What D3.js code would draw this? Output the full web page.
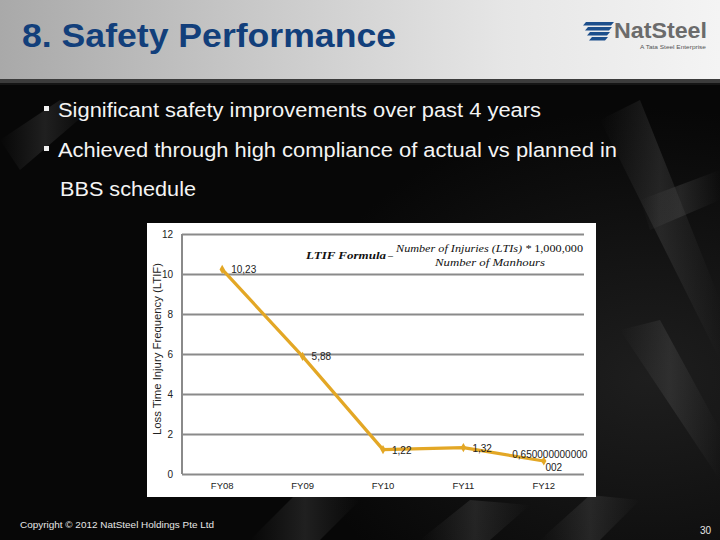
<!DOCTYPE html>
<html><head><meta charset="utf-8">
<script src="https://cdn.jsdelivr.net/npm/d3@7"></script>
<style>html,body{margin:0;padding:0;background:#000;}svg{display:block;}</style>
</head><body>
<svg id="c" width="720" height="540"></svg>
<script>
const categories = ["FY08", "FY09", "FY10", "FY11", "FY12"];
const ltif = [10.23, 5.88, 1.22, 1.32, 0.65];
const valueLabels = ["10,23", "5,88", "1,22", "1,32", "0,650000000000002"];
const yTicks = [0, 2, 4, 6, 8, 10, 12];
const bullets = ["Significant safety improvements over past 4 years",
                 "Achieved through high compliance of actual vs planned in",
                 "BBS schedule"];

const svg = d3.select("#c");
const defs = svg.append("defs");
const hg = defs.append("linearGradient").attr("id","hdr").attr("x1",0).attr("x2",1).attr("y1",0).attr("y2",0);
hg.append("stop").attr("offset","0%").attr("stop-color","#a9a9a9");
hg.append("stop").attr("offset","35%").attr("stop-color","#c8c8c8");
hg.append("stop").attr("offset","70%").attr("stop-color","#e6e6e6");
hg.append("stop").attr("offset","100%").attr("stop-color","#f4f4f4");
const bg = defs.append("radialGradient").attr("id","bgd").attr("cx","0.9").attr("cy","0.7").attr("r","0.5");
bg.append("stop").attr("offset","0%").attr("stop-color","#1e1e1e");
bg.append("stop").attr("offset","100%").attr("stop-color","#070707");
const bar = defs.append("linearGradient").attr("id","bar").attr("x1",0).attr("x2",1);
bar.append("stop").attr("offset","0%").attr("stop-color","#555").attr("stop-opacity",0);
bar.append("stop").attr("offset","50%").attr("stop-color","#5a5a5a").attr("stop-opacity",0.3);
bar.append("stop").attr("offset","100%").attr("stop-color","#555").attr("stop-opacity",0);

// background
svg.append("rect").attr("width",720).attr("height",540).attr("fill","url(#bgd)");
const bars = [
  [[600,120],[640,100],[720,300],[720,360]],
  [[620,330],[660,320],[720,430],[720,480]],
  [[250,540],[300,490],[360,500],[320,540]],
  [[420,540],[470,500],[530,505],[490,540]],
  [[540,540],[590,495],[640,500],[600,540]],
  [[0,140],[60,100],[90,110],[20,170]],
  [[640,200],[720,170],[720,200],[650,230]]
];
svg.append("g").selectAll("polygon").data(bars).join("polygon")
  .attr("points", d => d.map(p => p.join(",")).join(" "))
  .attr("fill","url(#bar)");
svg.append("rect").attr("width",720).attr("height",80).attr("fill","url(#hdr)");
svg.append("rect").attr("y",79).attr("width",720).attr("height",4).attr("fill","#3c3c3c");
svg.append("rect").attr("y",83).attr("width",720).attr("height",2).attr("fill","#151515");

// title
svg.append("text").attr("x",22).attr("y",47).attr("textLength",374).attr("lengthAdjust","spacingAndGlyphs")
  .attr("font-family","Liberation Sans, Arial, sans-serif").attr("font-weight","bold").attr("font-size",33)
  .attr("fill","#123f7b").text("8. Safety Performance");

// logo
const lg = svg.append("g");
[[0,22],[1,27],[2,32],[3,37]].forEach(([i,y0])=>{
  const xr = 613 - i*2, w = 30 - i*4;
  lg.append("polygon").attr("points",
    `${xr-w},${y0+3.5} ${xr-w+3},${y0} ${xr+1},${y0} ${xr-2},${y0+3.5}`).attr("fill","#1d4f8c");
});
lg.append("text").attr("x",614).attr("y",38).attr("textLength",93).attr("lengthAdjust","spacingAndGlyphs")
  .attr("font-family","Liberation Sans, Arial, sans-serif").attr("font-weight","bold").attr("font-size",22)
  .attr("fill","#6b6b6b").text("NatSteel");
lg.append("text").attr("x",706).attr("y",49).attr("text-anchor","end").attr("textLength",66).attr("lengthAdjust","spacingAndGlyphs")
  .attr("font-family","Liberation Sans, Arial, sans-serif").attr("font-size",6)
  .attr("fill","#555").text("A Tata Steel Enterprise");

// bullets
const bl = [{x:58,y:117,w:483,b:true},{x:58,y:157,w:559,b:true},{x:60,y:196,w:136,b:false}];
bl.forEach((o,i)=>{
  if(o.b) svg.append("rect").attr("x",44).attr("y",o.y-11).attr("width",5).attr("height",5).attr("fill","#f0f0f0");
  svg.append("text").attr("x",o.x).attr("y",o.y).attr("textLength",o.w).attr("lengthAdjust","spacingAndGlyphs")
    .attr("font-family","Liberation Sans, Arial, sans-serif").attr("font-size",20)
    .attr("fill","#f4f4f4").text(bullets[i]);
});

// chart panel
svg.append("rect").attr("x",147).attr("y",223).attr("width",449).attr("height",274).attr("fill","#ffffff");

const x = d3.scaleBand().domain(categories).range([182,584]);
const y = d3.scaleLinear().domain([0,12]).range([474,234]);

const gy = svg.append("g").attr("transform","translate(182,0)")
  .call(d3.axisLeft(y).tickValues(yTicks).tickSize(-(584-182)).tickPadding(9).tickFormat(d3.format("d")));
gy.select(".domain").attr("stroke","#8a8a8a").attr("stroke-width",2).attr("d","M0,234V474");
gy.selectAll(".tick line").attr("stroke","#8a8a8a").attr("stroke-width",2.2);
gy.selectAll(".tick text").attr("font-family","Liberation Sans, Arial, sans-serif").attr("font-size",10).attr("fill","#222");

const gx = svg.append("g").attr("transform","translate(0,474)")
  .call(d3.axisBottom(x).tickSize(0).tickPadding(8));
gx.select(".domain").remove();
gx.selectAll(".tick text").attr("font-family","Liberation Sans, Arial, sans-serif").attr("font-size",9.5).attr("fill","#222");

svg.append("text").attr("transform","translate(161,349) rotate(-90)").attr("text-anchor","middle")
  .attr("textLength",172).attr("lengthAdjust","spacingAndGlyphs")
  .attr("font-family","Liberation Sans, Arial, sans-serif").attr("font-size",10).attr("fill","#222")
  .text("Loss Time Injury Frequency (LTIF)");

// formula
const ff = "Liberation Serif, DejaVu Serif, serif";
svg.append("text").attr("x",306).attr("y",259).attr("textLength",80).attr("lengthAdjust","spacingAndGlyphs")
  .attr("font-family",ff).attr("font-style","italic").attr("font-weight","bold").attr("font-size",10.5).attr("fill","#111")
  .text("LTIF Formula");
svg.append("text").attr("x",388).attr("y",259).attr("font-family",ff).attr("font-size",10).attr("fill","#111").text("–");
const num = svg.append("text").attr("x",396).attr("y",252).attr("textLength",187).attr("lengthAdjust","spacingAndGlyphs")
  .attr("font-family",ff).attr("font-size",10).attr("fill","#111");
num.append("tspan").attr("font-style","italic").text("Number of Injuries (LTIs) * ");
num.append("tspan").text("1,000,000");
svg.append("text").attr("x",490).attr("y",266).attr("text-anchor","middle").attr("textLength",110).attr("lengthAdjust","spacingAndGlyphs")
  .attr("font-family",ff).attr("font-style","italic").attr("font-size",9.5).attr("fill","#111").text("Number of Manhours");

// line
const cx = (d,i) => x(categories[i]) + x.bandwidth()/2;
svg.append("path").datum(ltif)
  .attr("d", d3.line().x(cx).y(d => y(d)))
  .attr("fill","none").attr("stroke","#e3a725").attr("stroke-width",3.2).attr("stroke-linejoin","round");
svg.append("g").selectAll("path").data(ltif).join("path")
  .attr("transform",(d,i)=>`translate(${cx(d,i)},${y(d)})`)
  .attr("d", d3.symbol(d3.symbolDiamond, 24)())
  .attr("fill","#e3a725");

// value labels
const lab = svg.append("g").attr("font-family","Liberation Sans, Arial, sans-serif").attr("font-size",10).attr("fill","#222");
ltif.forEach((v,i)=>{
  const px = cx(v,i), py = y(v);
  if (i < 4) {
    lab.append("text").attr("x",px+9).attr("y",py+4).text(valueLabels[i]);
  } else {
    const s = valueLabels[i];
    lab.append("text").attr("x",px+6).attr("y",py-3).attr("text-anchor","middle").text(s.slice(0,14));
    lab.append("text").attr("x",px+10).attr("y",py+10).attr("text-anchor","middle").text(s.slice(14));
  }
});

// footer
svg.append("text").attr("x",20).attr("y",528).attr("textLength",194).attr("lengthAdjust","spacingAndGlyphs")
  .attr("font-family","Liberation Sans, Arial, sans-serif").attr("font-size",9).attr("fill","#e6e6e6")
  .text("Copyright © 2012 NatSteel Holdings Pte Ltd");
svg.append("text").attr("x",711).attr("y",534).attr("text-anchor","end")
  .attr("font-family","Liberation Sans, Arial, sans-serif").attr("font-size",10).attr("fill","#e6e6e6").text("30");
</script>
</body></html>
